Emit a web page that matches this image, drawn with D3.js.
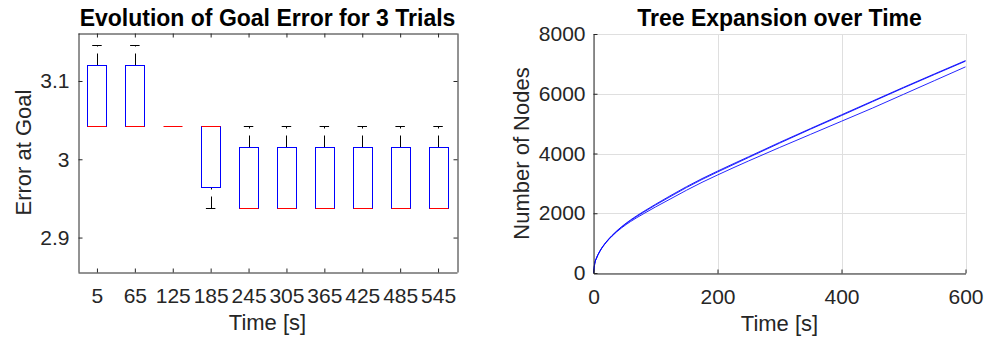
<!DOCTYPE html>
<html>
<head>
<meta charset="utf-8">
<script src="https://cdn.jsdelivr.net/npm/d3@7"></script>
<style>
    body { margin: 0; background: #fff; }
    svg { font-family: "Liberation Sans", Arial, Helvetica, sans-serif; }
</style>
</head>
<body>
<svg id="fig" width="989" height="343"></svg>
<script>
// --- left chart: goal error of the 3 trials at each time step
const timeLabels = ["5", "65", "125", "185", "245", "305", "365", "425", "485", "545"];
const errorTrial1 = [3.146, 3.146, 3.042, 3.042, 3.042, 3.042, 3.042, 3.042, 3.042, 3.042];
const errorTrial2 = [3.042, 3.042, 3.042, 3.042, 2.938, 2.938, 2.938, 2.938, 2.938, 2.938];
const errorTrial3 = [3.042, 3.042, 3.042, 2.938, 2.938, 2.938, 2.938, 2.938, 2.938, 2.938];
const errorTicks = [2.9, 3, 3.1];

// --- right chart: number of tree nodes over time, one line per trial
const timeSec = [0, 2, 5, 10, 20, 30, 45, 60, 80, 100, 125, 150, 175, 200, 250, 300, 350, 400, 450, 500, 550, 600];
const nodesTrial1 = [0, 320, 510, 725, 1030, 1260, 1545, 1780, 2050, 2300, 2600, 2890, 3160, 3410, 3890, 4370, 4835, 5295, 5755, 6215, 6665, 7110];
const nodesTrial2 = [0, 318, 505, 720, 1020, 1250, 1530, 1760, 2025, 2275, 2570, 2860, 3130, 3380, 3865, 4345, 4815, 5270, 5735, 6195, 6645, 7090];
const nodesTrial3 = [0, 315, 500, 712, 1010, 1235, 1505, 1725, 1975, 2210, 2490, 2770, 3035, 3280, 3750, 4200, 4640, 5080, 5520, 5980, 6440, 6900];
const nodeTicks = [0, 2000, 4000, 6000, 8000];
const timeTicks = [0, 200, 400, 600];

const axisColor = "#262626";
const gridColor = "#dfdfdf";
const tickFont = 21;
const labelFont = 22;

const svg = d3.select("#fig");

// MATLAB style percentile (linear interpolation on (i-0.5)/n)
function prctile(sorted, p) {
    const n = sorted.length;
    let pos = n * p / 100 + 0.5;
    if (pos <= 1) return sorted[0];
    if (pos >= n) return sorted[n - 1];
    const i = Math.floor(pos);
    return sorted[i - 1] + (pos - i) * (sorted[i] - sorted[i - 1]);
}

const crisp = v => Math.round(v) + 0.5;

function createChart1() {
    const left = 78, right = 457, top = 33, bottom = 272;
    const g = svg.append("g");

    const x = d3.scaleLinear().domain([0.5, 10.5]).range([left, right]);
    const y = d3.scaleLinear().domain([2.856, 3.1613]).range([bottom, top]);

    const stats = timeLabels.map((lab, i) => {
        const v = [errorTrial1[i], errorTrial2[i], errorTrial3[i]].sort(d3.ascending);
        const q1 = prctile(v, 25), med = prctile(v, 50), q3 = prctile(v, 75);
        const iqr = q3 - q1;
        const hi = d3.max(v.filter(d => d <= q3 + 1.5 * iqr + 1e-9));
        const lo = d3.min(v.filter(d => d >= q1 - 1.5 * iqr - 1e-9));
        return {pos: i + 1, q1, med, q3, hi, lo};
    });

    // whiskers (dashed)
    g.selectAll(".wUp").data(stats).join("line")
        .attr("x1", d => crisp(x(d.pos))).attr("x2", d => crisp(x(d.pos)))
        .attr("y1", d => crisp(y(d.q3))).attr("y2", d => crisp(y(d.hi)))
        .attr("stroke", "#000").attr("stroke-dasharray", "12,7");
    g.selectAll(".wLo").data(stats).join("line")
        .attr("x1", d => crisp(x(d.pos))).attr("x2", d => crisp(x(d.pos)))
        .attr("y1", d => crisp(y(d.lo))).attr("y2", d => crisp(y(d.q1)))
        .attr("stroke", "#000").attr("stroke-dasharray", "12,7");

    // caps
    g.selectAll(".capUp").data(stats).join("line")
        .attr("x1", d => x(d.pos - 0.125)).attr("x2", d => x(d.pos + 0.125))
        .attr("y1", d => crisp(y(d.hi))).attr("y2", d => crisp(y(d.hi)))
        .attr("stroke", "#000");
    g.selectAll(".capLo").data(stats).join("line")
        .attr("x1", d => x(d.pos - 0.125)).attr("x2", d => x(d.pos + 0.125))
        .attr("y1", d => crisp(y(d.lo))).attr("y2", d => crisp(y(d.lo)))
        .attr("stroke", "#000");

    // boxes
    g.selectAll(".box").data(stats).join("rect")
        .attr("x", d => crisp(x(d.pos - 0.25)))
        .attr("width", d => Math.round(x(d.pos + 0.25) - x(d.pos - 0.25)))
        .attr("y", d => crisp(y(d.q3)))
        .attr("height", d => crisp(y(d.q1)) - crisp(y(d.q3)))
        .attr("fill", "none").attr("stroke", "#0000ff");

    // medians
    g.selectAll(".med").data(stats).join("line")
        .attr("x1", d => crisp(x(d.pos - 0.25))).attr("x2", d => crisp(x(d.pos - 0.25)) + Math.round(x(d.pos + 0.25) - x(d.pos - 0.25)))
        .attr("y1", d => crisp(y(d.med))).attr("y2", d => crisp(y(d.med)))
        .attr("stroke", "#ff0000");

    // axes
    const xb = g.append("g").attr("transform", `translate(0,${bottom + 0.5})`)
        .call(d3.axisBottom(x).tickValues(d3.range(1, 11)).tickFormat((d, i) => timeLabels[i])
            .tickSize(-4).tickSizeOuter(0).tickPadding(16));
    const xt = g.append("g").attr("transform", `translate(0,${top + 0.5})`)
        .call(d3.axisTop(x).tickValues(d3.range(1, 11)).tickFormat("").tickSize(-4).tickSizeOuter(0));
    const yl = g.append("g").attr("transform", `translate(${left + 0.5},0)`)
        .call(d3.axisLeft(y).tickValues(errorTicks).tickFormat(d => d === 3 ? "3" : d3.format(".1f")(d))
            .tickSize(-4).tickSizeOuter(0).tickPadding(9));
    const yr = g.append("g").attr("transform", `translate(${right + 0.5},0)`)
        .call(d3.axisRight(y).tickValues(errorTicks).tickFormat("").tickSize(-4).tickSizeOuter(0));

    [xb, xt, yl, yr].forEach(a => {
        a.selectAll("path, line").attr("stroke", axisColor);
        a.selectAll("text").attr("fill", axisColor).style("font-size", tickFont + "px");
    });

    g.append("text").attr("x", (left + right) / 2).attr("y", 26)
        .attr("text-anchor", "middle").attr("font-weight", "bold")
        .style("font-size", "23px").text("Evolution of Goal Error for 3 Trials");
    g.append("text").attr("x", (left + right) / 2).attr("y", 330)
        .attr("text-anchor", "middle").attr("fill", axisColor)
        .style("font-size", labelFont + "px").text("Time [s]");
    g.append("text").attr("transform", `translate(31,${(top + bottom) / 2}) rotate(-90)`)
        .attr("text-anchor", "middle").attr("fill", axisColor)
        .style("font-size", labelFont + "px").text("Error at Goal");
}

function createChart2() {
    const left = 593.5, right = 965.5, top = 34, bottom = 273;
    const g = svg.append("g");

    const x = d3.scaleLinear().domain([0, 600]).range([left, right]);
    const y = d3.scaleLinear().domain([0, 8000]).range([bottom, top]);

    // grid
    g.append("g").selectAll("line").data(timeTicks).join("line")
        .attr("x1", d => crisp(x(d))).attr("x2", d => crisp(x(d)))
        .attr("y1", top).attr("y2", bottom).attr("stroke", gridColor);
    g.append("g").selectAll("line").data(nodeTicks).join("line")
        .attr("x1", left).attr("x2", right)
        .attr("y1", d => crisp(y(d))).attr("y2", d => crisp(y(d)))
        .attr("stroke", gridColor);

    const line = d3.line().x((d, i) => x(timeSec[i])).y(d => y(d)).curve(d3.curveMonotoneX);
    g.selectAll(".trial").data([nodesTrial3, nodesTrial2, nodesTrial1]).join("path")
        .attr("d", line).attr("fill", "none")
        .attr("stroke", "#0000ff").attr("stroke-width", 1).attr("stroke-opacity", 0.85);

    const xb = g.append("g").attr("transform", `translate(0,${bottom + 0.5})`)
        .call(d3.axisBottom(x).tickValues(timeTicks).tickSize(-4).tickSizeOuter(0).tickPadding(16));
    const yl = g.append("g").attr("transform", `translate(${left},0)`)
        .call(d3.axisLeft(y).tickValues(nodeTicks).tickFormat(d3.format("d"))
            .tickSize(-4).tickSizeOuter(0).tickPadding(8));

    [xb, yl].forEach(a => {
        a.selectAll("path, line").attr("stroke", axisColor);
        a.selectAll("text").attr("fill", axisColor).style("font-size", tickFont + "px");
    });

    g.append("text").attr("x", (left + right) / 2).attr("y", 26)
        .attr("text-anchor", "middle").attr("font-weight", "bold")
        .style("font-size", "23px").text("Tree Expansion over Time");
    g.append("text").attr("x", (left + right) / 2).attr("y", 331)
        .attr("text-anchor", "middle").attr("fill", axisColor)
        .style("font-size", labelFont + "px").text("Time [s]");
    g.append("text").attr("transform", `translate(529,${(top + bottom) / 2}) rotate(-90)`)
        .attr("text-anchor", "middle").attr("fill", axisColor)
        .style("font-size", labelFont + "px").text("Number of Nodes");
}

createChart1();
createChart2();
</script>
</body>
</html>
